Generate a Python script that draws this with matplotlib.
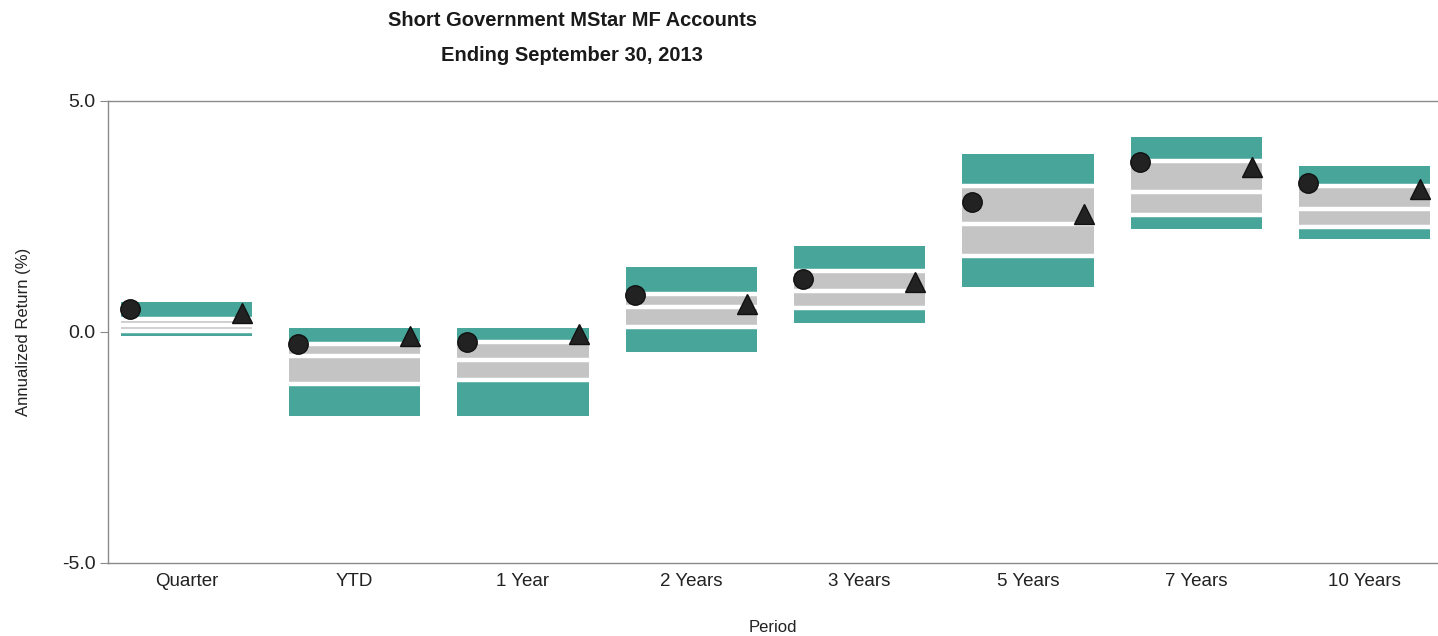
import matplotlib
matplotlib.use("Agg")
import matplotlib.pyplot as plt
from matplotlib import font_manager

periods = ["Quarter", "YTD", "1 Year", "2 Years", "3 Years", "5 Years", "7 Years", "10 Years"]

# percentile breakpoints of the universe (5th, 25th, median, 75th, 95th)
p05 = [0.66, 0.08, 0.08, 1.41, 1.86, 3.85, 4.21, 3.60]
p25 = [0.29, -0.26, -0.22, 0.82, 1.32, 3.15, 3.71, 3.15]
p50 = [0.16, -0.53, -0.61, 0.55, 0.88, 2.33, 3.04, 2.67]
p75 = [0.03, -1.12, -1.03, 0.11, 0.52, 1.64, 2.54, 2.28]
p95 = [-0.08, -1.82, -1.82, -0.43, 0.19, 0.98, 2.22, 2.01]

# portfolio (circle) and benchmark (triangle) returns
portfolio = [0.50, -0.26, -0.21, 0.80, 1.14, 2.82, 3.67, 3.23]
benchmark = [0.42, -0.08, -0.05, 0.60, 1.09, 2.55, 3.58, 3.09]

teal = "#48a59a"
grey = "#c4c4c4"
ink = "#222222"

installed = {f.name for f in font_manager.fontManager.ttflist}
family = "Liberation Sans Narrow" if "Liberation Sans Narrow" in installed else "Liberation Sans"
plt.rcParams["font.family"] = [family, "DejaVu Sans"]

fig = plt.figure(figsize=(14.38, 6.36), dpi=100)
ax = fig.add_axes([0.0751, 0.1148, 0.9249, 0.7264])

x = list(range(len(periods)))
w = 0.78
bands = [(p25, p05, teal), (p50, p25, grey), (p75, p50, grey), (p95, p75, teal)]
for lo, hi, color in bands:
    ax.bar(x, [h - l for h, l in zip(hi, lo)], bottom=lo, width=w,
           color=color, edgecolor="none", zorder=2)

# white separators between the bands
for level in (p25, p50, p75):
    ax.hlines(level, [i - w / 2 for i in x], [i + w / 2 for i in x],
              color="white", linewidth=3.2, zorder=3)

ax.plot([i - 0.335 for i in x], portfolio, linestyle="none", marker="o",
        markersize=14, color=ink, markeredgecolor="#111111", zorder=4)
ax.plot([i + 0.33 for i in x], benchmark, linestyle="none", marker="^",
        markersize=14.5, color=ink, markeredgecolor="#111111", zorder=4)

ax.set_xlim(-0.466, 7.436)
ax.set_ylim(-5, 5)
ax.set_yticks([-5, 0, 5])
ax.set_yticklabels(["-5.0", "0.0", "5.0"])
ax.set_xticks(x)
ax.set_xticklabels(periods)
ax.tick_params(axis="x", length=0, pad=7, labelsize=13.5, colors="#222222")
ax.tick_params(axis="y", length=6, width=0.8, color="#8a8a8a", pad=3,
               labelsize=14, labelcolor="#222222")

for side in ("left", "top", "bottom"):
    ax.spines[side].set_color("#8a8a8a")
    ax.spines[side].set_linewidth(1.0)
ax.spines["right"].set_visible(False)

ax.set_ylabel("Annualized Return (%)", fontsize=12, color="#222222", labelpad=22)
ax.set_xlabel("Period", fontsize=12, color="#222222", labelpad=22)

fig.text(0.398, 0.967, "Short Government MStar MF Accounts", ha="center", va="center",
         fontsize=14.5, fontweight="bold", color="#1a1a1a")
fig.text(0.398, 0.913, "Ending September 30, 2013", ha="center", va="center",
         fontsize=14.5, fontweight="bold", color="#1a1a1a")

fig.savefig("out.png", dpi=100)
